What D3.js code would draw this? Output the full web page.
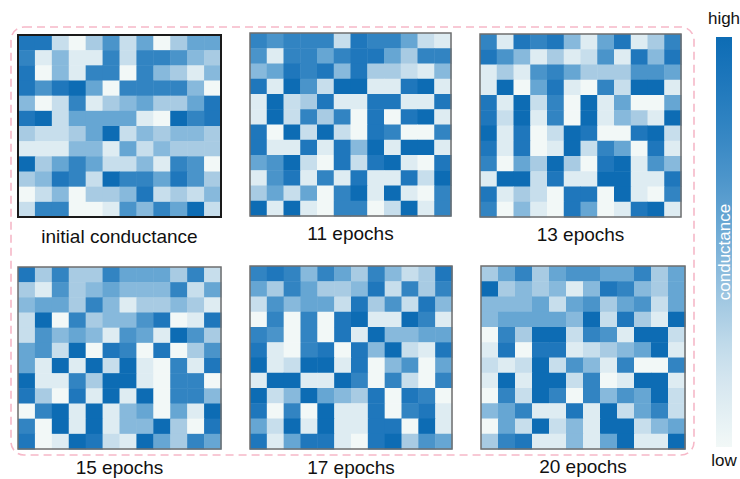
<!DOCTYPE html>
<html>
<head>
<meta charset="utf-8">
<script src="https://cdn.jsdelivr.net/npm/d3@7"></script>
<style>
  html, body { margin: 0; padding: 0; background: #fff; }
  svg { display: block; font-family: "Liberation Sans", Arial, sans-serif; }
</style>
</head>
<body>
<svg id="chart" width="740" height="479"></svg>
<script>
// Conductance level of each synapse (0 = low, 9 = high), 12 x 12 crossbar, row by row.
const initialGrid = [
  [8,8,2,0,3,6,2,5,0,3,5,5],
  [7,1,4,1,1,7,2,7,7,6,4,3],
  [8,0,4,1,7,7,0,7,4,3,1,4],
  [8,6,8,9,5,0,7,7,7,7,4,0],
  [4,0,2,7,1,3,4,5,3,3,5,8],
  [8,9,2,5,5,5,5,1,0,9,7,8],
  [3,2,2,3,5,9,2,4,3,4,4,3],
  [1,1,1,4,4,1,5,2,4,3,3,3],
  [9,3,5,7,5,2,2,4,1,7,6,0],
  [3,4,8,7,2,9,7,7,5,8,6,3],
  [0,2,4,0,3,3,4,8,2,3,2,4],
  [2,7,7,0,0,1,6,4,7,5,9,2]
];
const epoch11 = [
  [7,6,7,7,7,2,8,7,7,5,2,1],
  [6,1,7,7,5,7,8,8,5,3,7,7],
  [4,5,8,7,8,4,8,3,3,2,1,4],
  [8,1,9,6,2,9,9,1,1,8,9,1],
  [1,9,2,3,8,1,1,8,8,1,1,8],
  [1,9,2,7,3,7,0,8,0,8,9,1],
  [8,0,9,2,9,2,0,8,7,0,0,7],
  [8,1,1,8,1,8,4,9,1,9,9,1],
  [5,6,9,2,0,8,2,8,9,1,0,8],
  [1,6,8,1,7,1,8,1,1,8,2,9],
  [3,5,2,5,0,7,9,1,9,1,0,7],
  [9,1,9,1,0,7,7,0,2,9,1,7]
];
const epoch13 = [
  [7,1,8,7,8,4,1,5,8,1,3,7],
  [8,6,4,1,3,1,2,6,1,8,4,8],
  [1,3,1,6,7,5,3,3,3,6,6,5],
  [1,9,0,5,8,1,0,7,2,9,9,1],
  [8,1,9,2,7,0,9,1,5,0,0,5],
  [8,2,9,1,7,0,9,1,4,3,1,9],
  [9,1,8,0,2,9,8,0,0,8,9,2],
  [8,1,8,0,1,9,2,7,5,0,8,1],
  [7,0,5,3,9,3,0,8,9,1,6,4],
  [1,9,9,2,8,1,1,9,9,1,1,8],
  [8,1,3,2,0,8,8,0,9,1,0,7],
  [7,0,4,1,0,8,5,0,1,8,9,1]
];
const epoch15 = [
  [8,3,7,3,3,7,5,5,5,3,7,2],
  [3,1,6,3,4,5,4,4,4,7,2,5],
  [4,5,5,3,7,4,1,3,3,4,3,1],
  [2,9,0,7,3,4,4,6,8,0,1,8],
  [2,6,4,5,4,1,6,5,1,9,6,3],
  [5,6,2,9,0,8,7,0,8,0,3,6],
  [5,1,9,1,9,2,9,1,0,7,1,8],
  [9,1,1,7,3,9,9,1,0,7,7,0],
  [8,3,0,8,1,9,1,9,0,7,7,4],
  [0,7,9,1,9,1,4,5,0,5,1,9],
  [7,0,9,1,9,1,4,4,9,3,0,8],
  [8,0,1,9,8,2,1,9,5,3,7,5]
];
const epoch17 = [
  [7,8,7,4,7,5,3,7,4,2,3,8],
  [5,3,7,5,3,3,4,8,2,7,3,7],
  [2,6,4,5,5,2,8,3,6,2,8,4],
  [0,7,0,7,0,8,9,1,1,9,7,1],
  [7,6,0,7,0,8,1,9,4,4,5,5],
  [8,1,0,7,8,0,8,4,9,2,1,8],
  [9,1,2,9,9,1,8,0,4,6,0,5],
  [1,9,9,1,1,9,7,0,7,2,0,7],
  [9,2,4,9,5,4,3,8,0,8,7,0],
  [8,0,7,0,9,1,1,8,0,7,8,1],
  [5,2,9,1,9,1,1,8,8,0,9,1],
  [8,1,5,8,8,1,0,8,9,3,6,5]
];
const epoch20 = [
  [3,5,7,3,5,6,6,5,5,7,3,5],
  [9,3,4,3,4,1,4,8,7,4,3,5],
  [4,4,4,5,2,5,6,3,5,6,2,5],
  [4,5,5,5,5,4,9,2,8,3,1,9],
  [0,7,3,9,9,2,7,6,1,9,9,2],
  [1,8,0,8,8,1,2,3,4,5,9,1],
  [2,1,2,9,2,6,4,1,7,0,0,7],
  [1,9,1,9,9,2,7,0,1,9,9,1],
  [0,7,2,9,7,0,7,4,6,5,9,2],
  [4,5,7,1,1,8,1,9,2,5,7,2],
  [0,5,2,9,2,4,1,9,9,2,4,5],
  [3,7,8,1,1,4,1,5,9,1,1,9]
];
const panelTitles = ["initial conductance", "11 epochs", "13 epochs", "15 epochs", "17 epochs", "20 epochs"];
const panelGrids = [initialGrid, epoch11, epoch13, epoch15, epoch17, epoch20];
const levelRange = [0, 9];
const colorbarLabels = ["high", "low"];
const colorbarTitle = "conductance";

// Colour ramp from pale (low conductance) to deep blue (high conductance)
const rampStops = ["#f2f8f7", "#deecf2", "#c9dfec", "#a7cbe3", "#88b9dc",
                   "#65a6d3", "#4a93ca", "#3184c2", "#1f77bc", "#0d6cb4"];
const color = d3.scaleSequential(d3.interpolateRgbBasis(rampStops)).domain(levelRange);

const svg = d3.select("#chart");

// Panel frames: left, top, width, height
const frames = [
  {x: 18,  y: 35,  w: 203, h: 182, border: "#1a1a1a", bw: 2},
  {x: 250, y: 33,  w: 201, h: 183, border: "#6e6e6e", bw: 1.5},
  {x: 480, y: 34,  w: 201, h: 183, border: "#6e6e6e", bw: 1.5},
  {x: 18,  y: 267, w: 203, h: 182, border: "#6e6e6e", bw: 1.5},
  {x: 250, y: 266, w: 202, h: 183, border: "#6e6e6e", bw: 1.5},
  {x: 481, y: 266, w: 204, h: 183, border: "#6e6e6e", bw: 1.5}
];
const titleY = [243, 240, 241, 474, 474, 473];

// Dashed rounded outline around the six panels
svg.append("rect")
  .attr("x", 11).attr("y", 27).attr("width", 683).attr("height", 428)
  .attr("rx", 13).attr("ry", 13)
  .attr("fill", "none")
  .attr("stroke", "#f6b8c8").attr("stroke-width", 1.6)
  .attr("stroke-dasharray", "8,5");

panelGrids.forEach((grid, i) => {
  const f = frames[i];
  const idx = d3.range(grid[0].length);
  const x = d3.scaleBand().domain(idx).range([f.x, f.x + f.w]);
  const y = d3.scaleBand().domain(d3.range(grid.length)).range([f.y, f.y + f.h]);
  const cells = grid.flatMap((row, r) => row.map((v, c) => ({r, c, v})));
  const g = svg.append("g");
  g.selectAll("rect.cell").data(cells).join("rect")
    .attr("class", "cell")
    .attr("x", d => x(d.c)).attr("y", d => y(d.r))
    .attr("width", x.bandwidth() + 0.5).attr("height", y.bandwidth() + 0.5)
    .attr("fill", d => color(d.v));
  g.append("rect")
    .attr("x", f.x).attr("y", f.y).attr("width", f.w).attr("height", f.h)
    .attr("fill", "none").attr("stroke", f.border).attr("stroke-width", f.bw);
  svg.append("text")
    .attr("x", f.x + f.w / 2).attr("y", titleY[i])
    .attr("text-anchor", "middle")
    .attr("font-size", 19).attr("fill", "#111")
    .text(panelTitles[i]);
});

// Colour bar
const cb = {x: 716, y: 37, w: 16, h: 410};
const defs = svg.append("defs");
const grad = defs.append("linearGradient").attr("id", "cbar")
  .attr("x1", 0).attr("y1", 1).attr("x2", 0).attr("y2", 0);
d3.range(0, 1.0001, 0.05).forEach(t => {
  grad.append("stop").attr("offset", t)
    .attr("stop-color", color(levelRange[0] + t * (levelRange[1] - levelRange[0])));
});
svg.append("rect")
  .attr("x", cb.x).attr("y", cb.y).attr("width", cb.w).attr("height", cb.h)
  .attr("fill", "url(#cbar)");
svg.append("text")
  .attr("x", cb.x + cb.w / 2).attr("y", 24)
  .attr("text-anchor", "middle").attr("font-size", 17).attr("fill", "#111")
  .text(colorbarLabels[0]);
svg.append("text")
  .attr("x", cb.x + cb.w / 2).attr("y", 466)
  .attr("text-anchor", "middle").attr("font-size", 17).attr("fill", "#111")
  .text(colorbarLabels[1]);
svg.append("text")
  .attr("transform", `translate(${cb.x + cb.w / 2 + 6},${252}) rotate(-90)`)
  .attr("text-anchor", "middle").attr("font-size", 17).attr("fill", "#fff")
  .text(colorbarTitle);
</script>
</body>
</html>
